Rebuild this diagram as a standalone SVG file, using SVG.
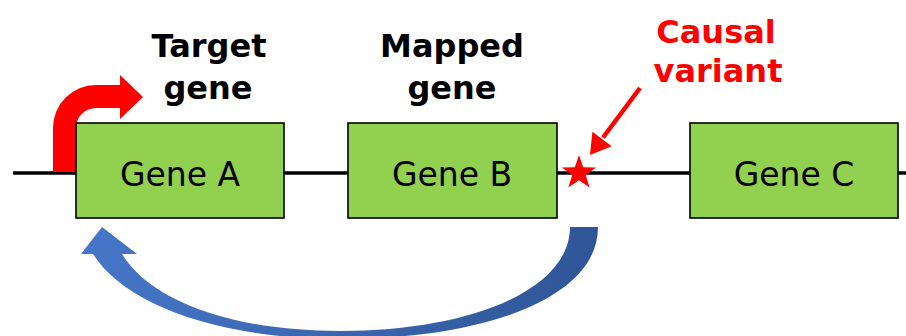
<svg xmlns="http://www.w3.org/2000/svg" width="906" height="336" viewBox="0 0 906 336">
<style>
.box{fill:#92D050;stroke:#000;stroke-width:1.6}
.lbl{font-family:"DejaVu Sans",sans-serif;font-size:33px;fill:#000;text-anchor:middle}
.ttl{font-family:"DejaVu Sans",sans-serif;font-weight:bold;font-size:32px;text-anchor:middle}
</style>
<defs>
<linearGradient id="blueg" x1="0" y1="0" x2="1" y2="0">
<stop offset="0" stop-color="#4676C8"/>
<stop offset="1" stop-color="#2F5597"/>
</linearGradient>
</defs>
<line x1="13" y1="173" x2="906" y2="173" stroke="#000" stroke-width="3.6"/>
<g id="connectors">
<path d="M53,172 V128 A43,43 0 0 1 96,85 H120 V75 L143,97 L120,119 V108 H96 A20,20 0 0 0 76,128 V172 Z" fill="#FF0000"/>
<path d="M598,227 C598,300 480,339 340,339 C220,339 125,305 93,254 L81,254 L102,227 L137,254 L122,254 C150,300 230,331 340,331 C470,331 570,290 570,227 Z" fill="url(#blueg)"/>
<line x1="640" y1="88" x2="603" y2="137.5" stroke="#FF0000" stroke-width="4.5"/>
<polygon points="590,155 611.6,146.2 592.4,131.8" fill="#FF0000"/>
</g>
<g id="geneA"><rect class="box" x="76" y="123" width="208" height="95"/><text class="lbl" x="180" y="186">Gene A</text></g>
<g id="geneB"><rect class="box" x="348" y="123" width="209" height="95"/><text class="lbl" x="452" y="186">Gene B</text></g>
<g id="geneC"><rect class="box" x="690" y="123" width="208" height="95"/><text class="lbl" x="794" y="186">Gene C</text></g>
<g id="variant"><polygon points="579,155 583.2,167.2 596.1,167.4 585.8,175.2 589.6,187.6 579,180.2 568.4,187.6 572.2,175.2 561.9,167.4 574.8,167.2" fill="#FF0000"/></g>
<g id="targetLabel"><text class="ttl" x="209" y="57" fill="#000">Target</text><text class="ttl" x="208" y="99" fill="#000">gene</text></g>
<g id="mappedLabel"><text class="ttl" x="452" y="57" fill="#000">Mapped</text><text class="ttl" x="452" y="99" fill="#000">gene</text></g>
<g id="causalLabel"><text class="ttl" x="716" y="43" fill="#FF0000">Causal</text><text class="ttl" x="718" y="82" fill="#FF0000">variant</text></g>
</svg>
